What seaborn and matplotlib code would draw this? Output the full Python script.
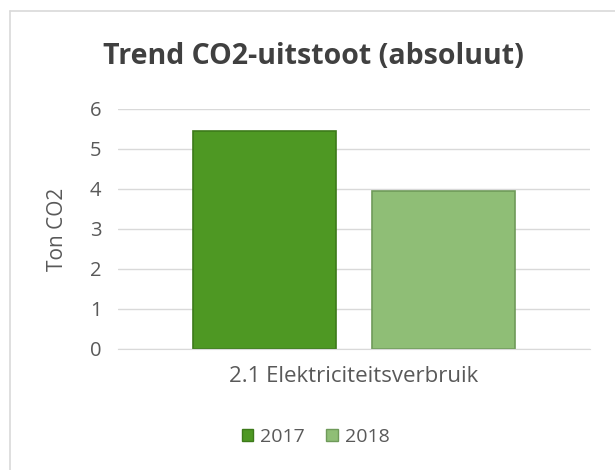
import pandas as pd
from matplotlib import pyplot as plt
from matplotlib.lines import Line2D
from matplotlib.patches import Patch
import seaborn as sns

categories = ["2.1 Elektriciteitsverbruik"]
years = ["2017", "2018"]
values_2017 = [5.44]
values_2018 = [3.96]

data = pd.DataFrame({
    "categorie": categories * 2,
    "jaar": [years[0]] * len(categories) + [years[1]] * len(categories),
    "ton": values_2017 + values_2018,
})

sns.set_style('white')
plt.rcParams['font.family'] = ['Open Sans', 'DejaVu Sans']

pal = {"2017": "#4e9823", "2018": "#8fbe76"}
edges = {"2017": "#3d7a1a", "2018": "#6f9a5a"}
txt = "#595959"

fig = plt.figure(figsize=(6.15, 4.70), dpi=100)
ax = fig.add_axes([118/615, 1 - 349/470, (590 - 118)/615, (349 - 109)/470])

sns.barplot(x="categorie", y="ton", hue="jaar", data=data, palette=pal,
            width=0.76, gap=0.2, ax=ax, legend=False, saturation=1)

for patch, yr in zip(ax.patches, years):
    patch.set_edgecolor(edges[yr])
    patch.set_linewidth(1.2)

ax.set_ylim(0, 6)
ax.set_xlim(-0.5, 0.5)
ax.set_yticks(range(0, 7))
ax.yaxis.grid(True, color="#d9d9d9", lw=1)
ax.set_axisbelow(True)
for s in ["top", "right", "left"]:
    ax.spines[s].set_visible(False)
ax.spines["bottom"].set_color("#d9d9d9")
ax.tick_params(axis='y', length=0, colors=txt, labelsize=14.5, pad=12)
ax.tick_params(axis='x', length=0, colors=txt, labelsize=16, pad=12)
ax.set_xlabel("")
ax.set_ylabel("Ton CO2", color=txt, fontsize=15, labelpad=6)
ax.yaxis.set_label_coords(-0.105, 0.5)

fig.text(0.510, 1 - 57/470, "Trend CO2-uitstoot (absoluut)", ha="center", va="center",
         fontsize=20.5, fontweight="bold", color="#404040")

handles = [Patch(facecolor=pal[y], edgecolor=edges[y]) for y in years]
fig.legend(handles, years, loc="center", bbox_to_anchor=(0.513, 1 - 437/470), ncol=2,
           frameon=False, fontsize=14, handlelength=0.6, handleheight=0.6,
           handletextpad=0.35, columnspacing=1.1, labelcolor=txt)

# chart border
fig.add_artist(Line2D([10/615, 10/615], [0, 1 - 11/470], transform=fig.transFigure,
                      color="#d9d9d9", lw=1.2))
fig.add_artist(Line2D([10/615, 1], [1 - 11/470, 1 - 11/470], transform=fig.transFigure,
                      color="#d9d9d9", lw=1.2))

fig.savefig('out.png', dpi=100)
